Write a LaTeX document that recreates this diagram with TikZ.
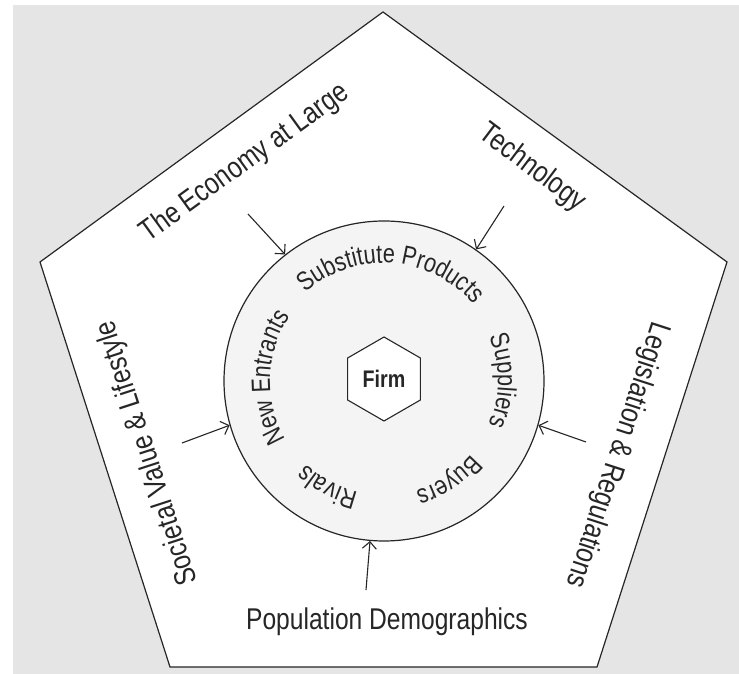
\documentclass[tikz,border=0pt]{standalone}
\usepackage{fontspec}
\setmainfont{Liberation Sans}
\newfontfamily\labfont{Liberation Sans}[FakeStretch=0.82]
\usetikzlibrary{shapes.geometric,decorations.text,arrows.meta}
\definecolor{bggrey}{HTML}{E5E5E5}
\definecolor{innergrey}{HTML}{F4F4F4}
\definecolor{ink}{HTML}{262626}
\newcommand{\outerlab}{\labfont\fontsize{30}{36}\selectfont}
\newcommand{\innerlab}{\labfont\fontsize{26.5}{31}\selectfont}
\begin{document}
\begin{tikzpicture}[x=1pt,y=1pt,
  edge/.style={draw=ink,line width=1.2pt,line join=miter},
  arr/.style={draw=ink,line width=1.1pt,-{Straight Barb[length=7pt,width=14pt,line width=1.1pt]}},
  outerlabel/.style={text=ink,font=\outerlab,inner sep=0pt},
  arctext/.style={decorate,decoration={text along path,text align=center,text color=ink,text={|\innerlab|#1}}}
]
\useasboundingbox (0,0) rectangle (739,674);
\fill[bggrey] (13,0) rectangle (739,669);
% pentagon
\coordinate (pt) at (383,662);
\coordinate (pl) at (40,412);
\coordinate (pr) at (727,412);
\coordinate (pbl) at (170,7);
\coordinate (pbr) at (597,7);
\filldraw[edge,fill=white] (pt) -- (pr) -- (pbr) -- (pbl) -- (pl) -- cycle;
% circle
\node[circle,edge,fill=innergrey,minimum size=320pt,inner sep=0pt] (circ) at (384,293) {};
% firm hexagon
\node[regular polygon,regular polygon sides=6,shape border rotate=30,draw=ink,line width=1.1pt,fill=white,
      minimum size=84pt,inner sep=0pt,font=\labfont\fontsize{24}{28}\selectfont\bfseries,text=ink] (firm) at (384,295) {Firm};
% inner curved labels
\path[arctext={Substitute Products}] (circ.center) ++(156:118) arc[start angle=156,end angle=16,radius=118];
\path[arctext={Suppliers}] (circ.center) ++(60:114) arc[start angle=60,end angle=-60,radius=114];
\path[arctext={Buyers}] (circ.center) ++(3:114) arc[start angle=3,end angle=-117,radius=114];
\path[arctext={Rivals}] (circ.center) ++(-58:114) arc[start angle=-58,end angle=-178,radius=114];
\path[arctext={New Entrants}] (circ.center) ++(248:114) arc[start angle=248,end angle=108,radius=114];
% outer labels
\node[outerlabel,rotate=36] (econ) at (245,511) {The Economy at Large};
\node[outerlabel,rotate=-37] (tech) at (532,506) {Technology};
\node[outerlabel,rotate=108] (soc) at (148,221) {Societal Value \& Lifestyle};
\node[outerlabel,rotate=-108] (leg) at (617,219) {Legislation \& Regulations};
\node[outerlabel,anchor=base] (pop) at (387,44) {Population Demographics};
% arrows
\coordinate (aecon) at (248,460);
\coordinate (atech) at (504,468);
\coordinate (asoc) at (182,231);
\coordinate (aleg) at (586,232);
\coordinate (apop) at (366,84);
\draw[arr] (aecon) -- (circ.128.6);
\draw[arr] (atech) -- (circ.55);
\draw[arr] (asoc) -- (circ.196.7);
\draw[arr] (aleg) -- (circ.-16.5);
\draw[arr] (apop) -- (circ.-95.7);
\end{tikzpicture}
\end{document}
